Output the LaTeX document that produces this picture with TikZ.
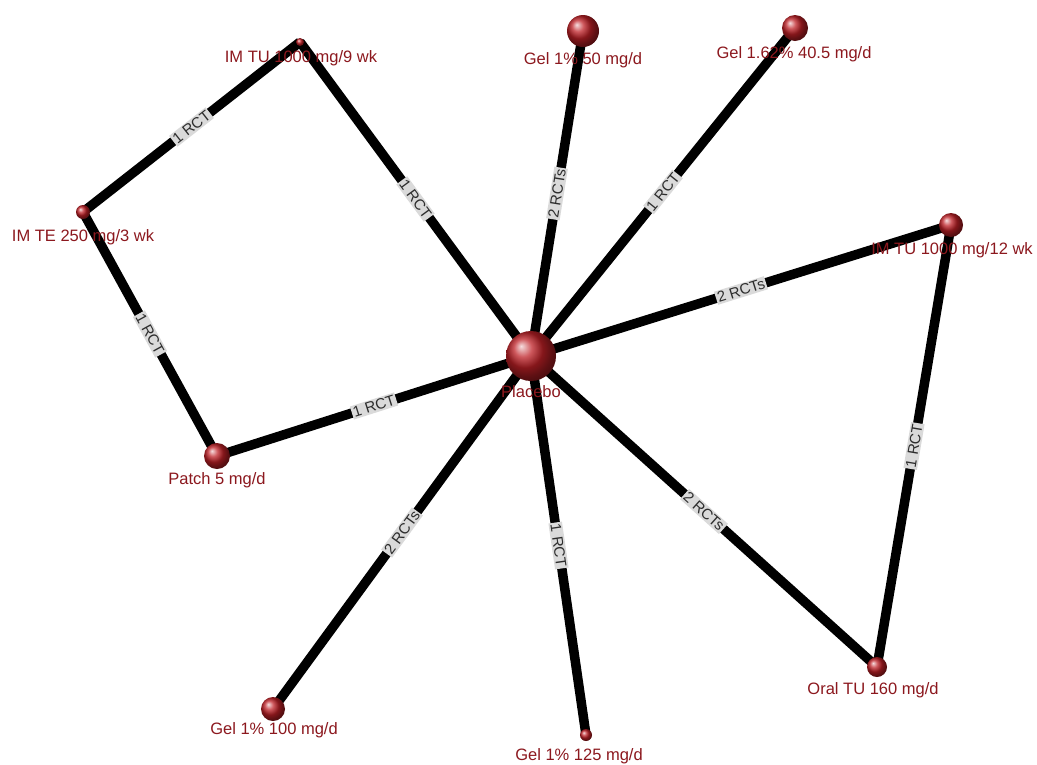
\documentclass[tikz,border=0pt]{standalone}
\usepackage{fontspec}
\setmainfont{Liberation Sans}
\usetikzlibrary{backgrounds}
\definecolor{lbl}{RGB}{140,24,30}
\definecolor{ballc}{RGB}{190,32,38}
\definecolor{boxc}{RGB}{218,218,218}
\definecolor{etext}{RGB}{45,45,45}
\begin{document}
\begin{tikzpicture}[x=1pt,y=-1pt,
  ball/.style={circle, inner sep=0pt, ball color=ballc, minimum size=#1},
  lab/.style={text=lbl, font=\fontsize{16.5}{18}\selectfont, inner sep=0pt},
  edge/.style={line width=9.5pt, black},
  elab/.style={sloped, fill=boxc, text=etext, font=\fontsize{15}{16}\selectfont, inner sep=1.5pt, midway}]
\useasboundingbox (0,0) rectangle (1037,764);
% balls
\node[ball=50pt] (pl) at (531,356) {};
\node[ball=32pt] (g50) at (583,31) {};
\node[ball=26pt] (g162) at (795,28) {};
\node[ball=8pt] (tu9) at (300,42) {};
\node[ball=14pt] (te) at (83,212) {};
\node[ball=24pt] (tu12) at (951,225) {};
\node[ball=26pt] (pa) at (217,456) {};
\node[ball=24pt] (g100) at (273,709) {};
\node[ball=12pt] (g125) at (586,735) {};
\node[ball=20pt] (or) at (877,667) {};
% labels
\node[lab] (lpl) at (531,392) {Placebo};
\node[lab] (lg50) at (583,60) {Gel 1\% 50 mg/d};
\node[lab] (lg162) at (794,54) {Gel 1.62\% 40.5 mg/d};
\node[lab] (ltu9) at (301,58) {IM TU 1000 mg/9 wk};
\node[lab] (lte) at (83,237) {IM TE 250 mg/3 wk};
\node[lab] (ltu12) at (952,250) {IM TU 1000 mg/12 wk};
\node[lab] (lpa) at (217,480) {Patch 5 mg/d};
\node[lab] (lg100) at (274,730) {Gel 1\% 100 mg/d};
\node[lab] (lg125) at (579,756) {Gel 1\% 125 mg/d};
\node[lab] (lor) at (873,690) {Oral TU 160 mg/d};
% edges
\begin{scope}[on background layer]
\fill[white] (0,0) rectangle (1037,764);
\draw[edge] (te.center) -- node[elab] {1 RCT} (tu9.center);
\draw[edge] (tu9.center) -- node[elab] {1 RCT} (pl.center);
\draw[edge] (pl.center) -- node[elab] {2 RCTs} (g50.center);
\draw[edge] (pl.center) -- node[elab] {1 RCT} (g162.center);
\draw[edge] (pl.center) -- node[elab] {2 RCTs} (tu12.center);
\draw[edge] (te.center) -- node[elab] {1 RCT} (pa.center);
\draw[edge] (pa.center) -- node[elab] {1 RCT} (pl.center);
\draw[edge] (g100.center) -- node[elab] {2 RCTs} (pl.center);
\draw[edge] (pl.center) -- node[elab] {1 RCT} (g125.center);
\draw[edge] (pl.center) -- node[elab] {2 RCTs} (or.center);
\draw[edge] (tu12.center) -- node[elab] {1 RCT} (or.center);
\end{scope}
\end{tikzpicture}
\end{document}
